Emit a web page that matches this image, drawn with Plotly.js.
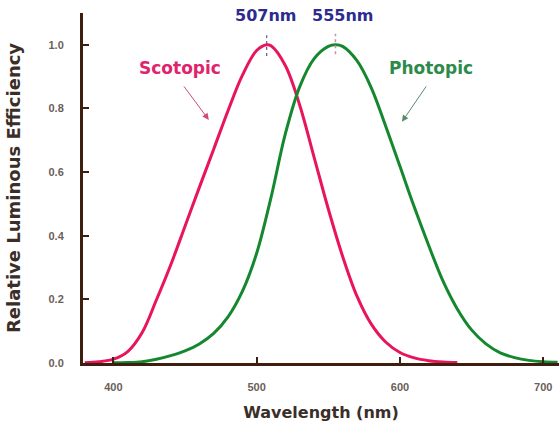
<!DOCTYPE html>
<html>
<head>
<meta charset="utf-8">
<script src="https://cdn.plot.ly/plotly-3.0.1.min.js"></script>
<style>html,body{margin:0;padding:0;background:#fff;}#chart{width:559px;height:429px;}</style>
</head>
<body>
<div id="chart"></div>
<script>
// Wavelengths (nm) and relative luminous efficiency values
const scotopicWavelength = [380,390,400,410,420,430,440,450,460,470,480,490,500,507,510,520,530,540,550,560,570,580,590,600,610,620,630,640];
const scotopicValues = [0.001,0.004,0.012,0.036,0.095,0.198,0.308,0.43,0.552,0.672,0.793,0.904,0.982,1.0,0.997,0.935,0.811,0.648,0.484,0.335,0.21,0.122,0.066,0.033,0.016,0.0074,0.0033,0.0015];

const photopicWavelength = [400,410,420,430,440,450,460,470,480,490,500,510,520,530,540,550,555,560,570,580,590,600,610,620,630,640,650,660,670,680,690,700,710];
const photopicValues = [0.0004,0.0012,0.004,0.0116,0.023,0.038,0.06,0.093,0.145,0.225,0.345,0.52,0.72,0.868,0.956,0.995,1.0,0.995,0.95,0.865,0.745,0.618,0.49,0.37,0.258,0.17,0.104,0.06,0.032,0.017,0.0082,0.0041,0.0021];

const xTicks = [400,500,600,700];
const yTicks = [0.0,0.2,0.4,0.6,0.8,1.0];
const yTickLabels = ["0.0","0.2","0.4","0.6","0.8","1.0"];
const peakWavelengths = [507, 555];
const peakLabels = ["507nm", "555nm"];

const FONT = "DejaVu Sans, Verdana, sans-serif";
const TICKFONT = "Liberation Sans, Arial, Helvetica, sans-serif";
const axisColor = "#3d1f10";

const traces = [
  {x: scotopicWavelength, y: scotopicValues, mode: "lines", name: "Scotopic",
   line: {color: "#e8145c", width: 3, shape: "spline", smoothing: 1}, hoverinfo: "x+y"},
  {x: photopicWavelength, y: photopicValues, mode: "lines", name: "Photopic",
   line: {color: "#15882f", width: 3, shape: "spline", smoothing: 1}, hoverinfo: "x+y"}
];

const annotations = [
  {x: 506.5, y: 1.092, xref: "x", yref: "y", text: "<b>" + peakLabels[0] + "</b>", showarrow: false,
   font: {family: FONT, size: 16, color: "#2d2b8e"}},
  {x: 560, y: 1.092, xref: "x", yref: "y", text: "<b>" + peakLabels[1] + "</b>", showarrow: false,
   font: {family: FONT, size: 16, color: "#2d2b8e"}},
  {x: 446.5, y: 0.928, xref: "x", yref: "y", text: "<b>Scotopic</b>", showarrow: false,
   font: {family: FONT, size: 17, color: "#e0246c"}},
  {x: 621.7, y: 0.926, xref: "x", yref: "y", text: "<b>Photopic</b>", showarrow: false,
   font: {family: FONT, size: 17, color: "#2e8a4a"}},
  {x: 466.6, y: 0.764, ax: 448.5, ay: 0.874, xref: "x", yref: "y", axref: "x", ayref: "y",
   text: "", showarrow: true, arrowhead: 2, arrowsize: 1.3, arrowwidth: 1, arrowcolor: "#d0487a"},
  {x: 601.4, y: 0.758, ax: 619, ay: 0.874, xref: "x", yref: "y", axref: "x", ayref: "y",
   text: "", showarrow: true, arrowhead: 2, arrowsize: 1.3, arrowwidth: 1, arrowcolor: "#5a8a68"}
];

const shapes = [
  {type: "line", xref: "x", yref: "y", x0: peakWavelengths[0], x1: peakWavelengths[0], y0: 0.965, y1: 1.03,
   line: {color: "#5a5a96", width: 1.2, dash: "dot"}},
  {type: "line", xref: "x", yref: "y", x0: peakWavelengths[1], x1: peakWavelengths[1], y0: 0.97, y1: 1.035,
   line: {color: "#b89aa0", width: 1.5, dash: "dot"}}
];

const layout = {
  width: 559, height: 429,
  margin: {l: 83, r: 0, t: 13, b: 66, pad: 0},
  paper_bgcolor: "#ffffff", plot_bgcolor: "#ffffff",
  showlegend: false,
  font: {family: FONT},
  xaxis: {
    range: [378.8, 711], tickvals: xTicks, ticktext: xTicks.map(String),
    showgrid: false, zeroline: false, showline: true, linecolor: axisColor, linewidth: 3,
    ticks: "inside", ticklen: 6, tickwidth: 2, tickcolor: axisColor,
    tickfont: {family: TICKFONT, size: 11, color: "#6b6058", weight: "bold"}, ticklabelstandoff: 12,
    title: {text: "<b>Wavelength (nm)</b>", font: {family: FONT, size: 16, color: "#3b2e28"}, standoff: 15},
    automargin: false, fixedrange: true
  },
  yaxis: {
    range: [0, 1.1], tickvals: yTicks, ticktext: yTickLabels,
    showgrid: false, zeroline: false, showline: true, linecolor: axisColor, linewidth: 3,
    ticks: "inside", ticklen: 6, tickwidth: 2, tickcolor: axisColor,
    tickfont: {family: TICKFONT, size: 11, color: "#6b6058", weight: "bold"}, ticklabelstandoff: 14,
    title: {text: "<b>Relative Luminous Efficiency</b>", font: {family: FONT, size: 18, color: "#3b2e28"}, standoff: 24},
    automargin: false, fixedrange: true
  },
  annotations: annotations,
  shapes: shapes
};

Plotly.newPlot("chart", traces, layout, {staticPlot: true, displayModeBar: false});
</script>
</body>
</html>
